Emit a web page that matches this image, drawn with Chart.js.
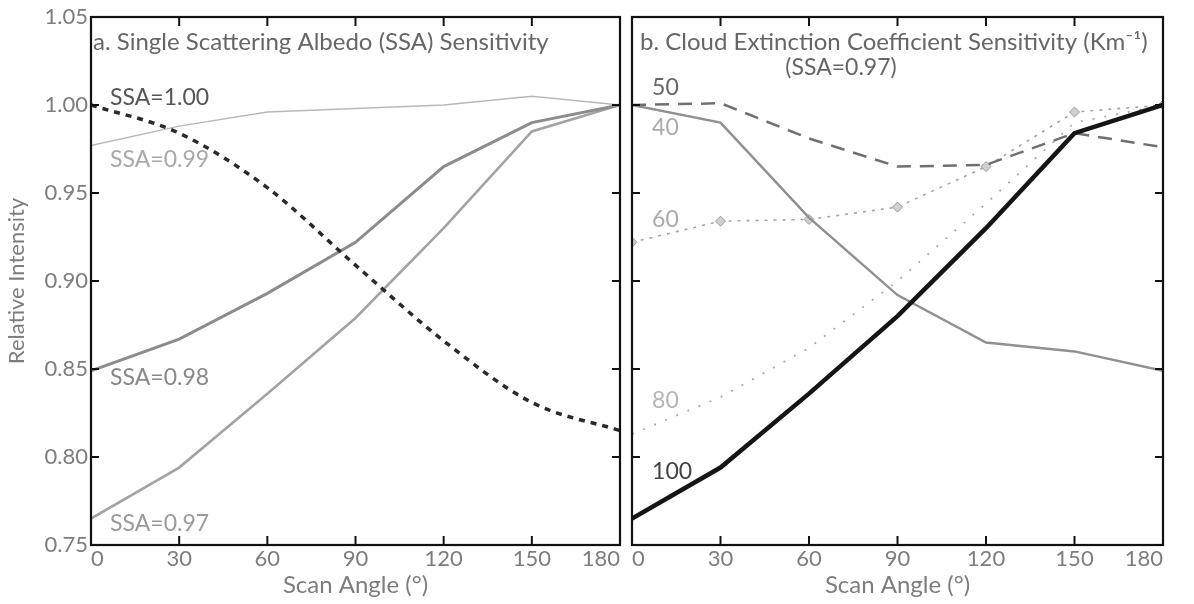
<!DOCTYPE html>
<html><head><meta charset="utf-8">
<script src="https://cdn.jsdelivr.net/npm/chart.js@4/dist/chart.umd.min.js"></script>
<style>
html,body{margin:0;padding:0;background:#fff;}
#wrap{position:relative;width:1194px;height:604px;overflow:hidden;}
.box{position:absolute;top:0;height:604px;}
</style></head><body>
<div id="wrap">
<div class="box" style="left:0;width:626px"><canvas id="cA"></canvas></div>
<div class="box" style="left:626px;width:568px"><canvas id="cB"></canvas></div>
</div>
<script>
// ---------- data ----------
const scanAngles = [0, 30, 60, 90, 120, 150, 180];
const yTicks = [0.75, 0.80, 0.85, 0.90, 0.95, 1.00, 1.05];

// Panel a: SSA sensitivity
const ssa100 = [1.000, 0.984, 0.953, 0.909, 0.866, 0.831, 0.815];
const ssa099 = [0.977, 0.988, 0.996, 0.998, 1.000, 1.005, 1.000];
const ssa098 = [0.849, 0.867, 0.893, 0.922, 0.965, 0.990, 1.000];
const ssa097 = [0.765, 0.794, 0.836, 0.879, 0.930, 0.985, 1.000];

// Panel b: cloud extinction coefficient (Km-1), SSA=0.97
const ext50  = [1.000, 1.001, 0.981, 0.965, 0.966, 0.984, 0.976];
const ext40  = [1.000, 0.990, 0.936, 0.892, 0.865, 0.860, 0.849];
const ext60  = [0.922, 0.934, 0.935, 0.942, 0.965, 0.996, 1.000];
const ext80  = [0.813, 0.834, 0.862, 0.900, 0.944, 0.990, 1.000];
const ext100 = [0.765, 0.794, 0.836, 0.880, 0.930, 0.984, 1.000];

const titleA = 'a. Single Scattering Albedo (SSA) Sensitivity';
const titleB = 'b. Cloud Extinction Coefficient Sensitivity (Km\u207B\u00B9)';
const subTitleB = '(SSA=0.97)';
const xTitle = 'Scan Angle (\u00B0)';
const yTitle = 'Relative Intensity';

// ---------- helpers ----------
const FONT = 'Lato, "Open Sans", sans-serif';
Chart.defaults.font.family = FONT;
Chart.defaults.animation = false;

function pts(vals){ return scanAngles.map((a,i)=>({x:a, y:vals[i]})); }

const framePlugin = {
  id:'frame',
  afterDatasetsDraw(chart, args, opts){
    const {ctx, chartArea:ca, scales:{x, y}} = chart;
    ctx.save();
    ctx.strokeStyle = '#111';
    ctx.lineWidth = 2.2;
    ctx.strokeRect(ca.left, ca.top, ca.right-ca.left, ca.bottom-ca.top);
    ctx.lineWidth = 2;
    scanAngles.forEach(a=>{
      if (a===0 || a===180) return;
      const px = x.getPixelForValue(a);
      ctx.beginPath(); ctx.moveTo(px, ca.bottom); ctx.lineTo(px, ca.bottom-9); ctx.stroke();
      ctx.beginPath(); ctx.moveTo(px, ca.top); ctx.lineTo(px, ca.top+9); ctx.stroke();
    });
    yTicks.forEach(v=>{
      if (v<=0.751 || v>=1.049) return;
      const py = y.getPixelForValue(v);
      ctx.beginPath(); ctx.moveTo(ca.left, py); ctx.lineTo(ca.left+8, py); ctx.stroke();
      ctx.beginPath(); ctx.moveTo(ca.right, py); ctx.lineTo(ca.right-8, py); ctx.stroke();
    });
    // text labels
    (opts.labels||[]).forEach(l=>{
      ctx.font = (l.size||23) + 'px ' + FONT;
      ctx.fillStyle = l.color;
      ctx.textAlign = l.align || 'left';
      ctx.textBaseline = 'middle';
      const px = l.px!==undefined ? ca.left + l.px : x.getPixelForValue(l.x);
      const py = l.py!==undefined ? l.py : y.getPixelForValue(l.y);
      ctx.fillText(l.text, px, py);
    });
    ctx.restore();
  }
};

function makeOptions(showYLabels, yWidth, padLeft, padRight, labels){
  return {
    responsive:true, maintainAspectRatio:false,
    layout:{padding:{top:17, left:padLeft, right:padRight, bottom:0}},
    plugins:{legend:{display:false}, tooltip:{enabled:false}, frame:{labels}},
    elements:{point:{radius:0}, line:{tension:0}},
    scales:{
      x:{type:'linear', min:0, max:180,
         grid:{display:false, drawTicks:false}, border:{display:false},
         ticks:{stepSize:30, color:'#7d7d7d', font:{size:22}, padding:1, align:'inner', maxRotation:0},
         title:{display:true, text:xTitle, color:'#7d7d7d', font:{size:24}, padding:{top:0,bottom:4}},
         afterFit(s){ s.height = 59; }},
      y:{type:'linear', min:0.75, max:1.05,
         grid:{display:false, drawTicks:false}, border:{display:false},
         ticks:{display:showYLabels, stepSize:0.05, color:'#7d7d7d', font:{size:22}, padding:3,
                callback:v=>Number(v).toFixed(2)},
         title:{display:showYLabels, text:yTitle, color:'#7d7d7d', font:{size:22}, padding:{top:4,bottom:0}},
         afterFit(s){ s.width = yWidth; }}
    }
  };
}

// ---------- panel a ----------
new Chart(document.getElementById('cA'), {
  type:'line',
  data:{datasets:[
    {label:'SSA=1.00', data:pts(ssa100), borderColor:'#2a2a2a', borderWidth:3.5, borderDash:[6,6], cubicInterpolationMode:'monotone'},
    {label:'SSA=0.99', data:pts(ssa099), borderColor:'#b8b8b8', borderWidth:1.5},
    {label:'SSA=0.98', data:pts(ssa098), borderColor:'#8c8c8c', borderWidth:3},
    {label:'SSA=0.97', data:pts(ssa097), borderColor:'#a3a3a3', borderWidth:2.6}
  ]},
  options:makeOptions(true, 91, 0, 6, [
    {text:titleA, px:2, py:42, size:24, color:'#666'},
    {text:'SSA=1.00', x:6.5, y:1.0045, color:'#555'},
    {text:'SSA=0.99', x:6.5, y:0.969, color:'#a8a8a8'},
    {text:'SSA=0.98', x:6.5, y:0.845, color:'#888'},
    {text:'SSA=0.97', x:6.5, y:0.7622, color:'#9a9a9a'}
  ]),
  plugins:[framePlugin]
});

// ---------- panel b ----------
new Chart(document.getElementById('cB'), {
  type:'line',
  data:{datasets:[
    {label:'100', data:pts(ext100), borderColor:'#151515', borderWidth:4.5},
    {label:'50', data:pts(ext50), borderColor:'#707070', borderWidth:2.5, borderDash:[14,9]},
    {label:'40', data:pts(ext40), borderColor:'#909090', borderWidth:2.5},
    {label:'60', data:pts(ext60), borderColor:'#a5a5a5', borderWidth:1.6, borderDash:[3,6],
     pointRadius:5, pointStyle:'rectRot', pointBackgroundColor:'#d0d0d0', pointBorderColor:'#9a9a9a', pointBorderWidth:1},
    {label:'80', data:pts(ext80), borderColor:'#ababab', borderWidth:1.8, borderDash:[2,10]}
  ]},
  options:makeOptions(false, 0, 6, 31, [
    {text:titleB, px:8, py:42, size:24, color:'#666'},
    {text:subTitleB, px:209, py:68, align:'center', color:'#666'},
    {text:'50', x:6.8, y:1.0097, color:'#666'},
    {text:'40', x:6.8, y:0.987, color:'#aaa'},
    {text:'60', x:6.8, y:0.9347, color:'#aaa'},
    {text:'80', x:6.8, y:0.832, color:'#b5b5b5'},
    {text:'100', x:6.8, y:0.7915, color:'#444'}
  ]),
  plugins:[framePlugin]
});
</script>
</body></html>
